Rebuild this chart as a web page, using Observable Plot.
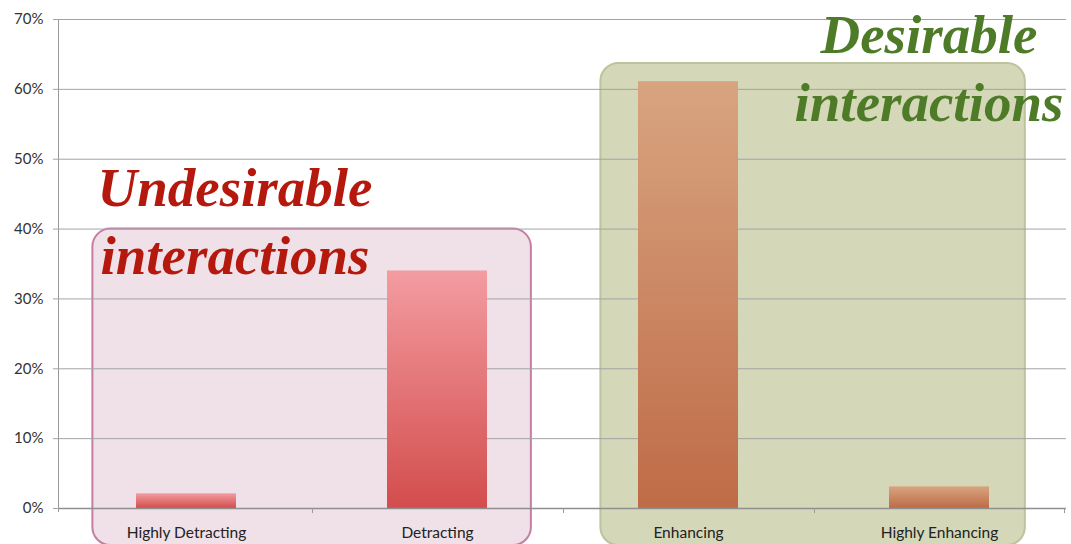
<!DOCTYPE html>
<html><head><meta charset="utf-8">
<script src="https://cdn.jsdelivr.net/npm/d3@7"></script>
<script src="https://cdn.jsdelivr.net/npm/@observablehq/plot@0.6"></script>
<style>
  html,body{margin:0;padding:0;background:#fff;}
  #chart svg{display:block;}
</style>
</head><body><div id="chart"></div>
<script>
// ---- data ----
const categories = ["Highly Detracting", "Detracting", "Enhancing", "Highly Enhancing"];
const shares = [0.021, 0.34, 0.611, 0.031];
const yTicks = [0, 0.1, 0.2, 0.3, 0.4, 0.5, 0.6, 0.7];
const groupLines = [["Undesirable", "interactions"], ["Desirable", "interactions"]];
const groupMembers = [["Highly Detracting", "Detracting"], ["Enhancing", "Highly Enhancing"]];
const groupTops = [0.40, 0.637];

const rows = categories.map((c, i) => ({category: c, share: shares[i], group: groupMembers[0].includes(c) ? 0 : 1}));

const W = 1071, H = 544;

function bw(x) { return typeof x.bandwidth === "function" ? x.bandwidth() : x.bandwidth; }
function stepOf(x) { return typeof x.step === "function" ? x.step() : (bw(x) / 0.4); }
function slotStart(x, c) { const s = stepOf(x); return x(c) - (s - bw(x)) / 2; }

const defsMark = () => {
  const svg = d3.create("svg:defs");
  const mk = (id, top, bottom) => {
    const g = svg.append("linearGradient").attr("id", id).attr("x1", 0).attr("y1", 0).attr("x2", 0).attr("y2", 1);
    g.append("stop").attr("offset", "0%").attr("stop-color", top);
    g.append("stop").attr("offset", "100%").attr("stop-color", bottom);
  };
  mk("gRed", "#f39ca1", "#d34d4c");
  mk("gOrange", "#d8a480", "#bf6b47");
  return svg.node();
};

const boxesMark = (index, scales) => {
  const x = scales.x, y = scales.y, s = stepOf(x);
  const g = d3.create("svg:g");
  const specs = [
    {l: slotStart(x, groupMembers[0][0]) + 0.127 * s, r: slotStart(x, groupMembers[0][1]) + 0.874 * s,
     fill: "#f0e0e8", stroke: "#c47ea3"},
    {l: slotStart(x, groupMembers[1][0]) + 0.151 * s, r: slotStart(x, groupMembers[1][1]) + 0.842 * s,
     fill: "#d4d8b8", stroke: "#bcc39d"}
  ];
  specs.forEach((b, i) => {
    const top = y(groupTops[i]);
    const bottom = y(0) + 37;
    g.append("rect").attr("x", b.l).attr("y", top).attr("width", b.r - b.l).attr("height", bottom - top)
      .attr("rx", 18).attr("ry", 18).attr("fill", b.fill).attr("stroke", b.stroke).attr("stroke-width", 2);
  });
  return g.node();
};

const frameMark = (index, scales, values, dims) => {
  const y = scales.y;
  const g = d3.create("svg:g").attr("stroke", "#9a9a9a").attr("stroke-width", 1);
  const xx = dims.marginLeft - 0.5;
  g.append("line").attr("x1", xx).attr("x2", xx).attr("y1", y(0.7)).attr("y2", y(0) + 4);
  return g.node();
};

const sepMark = (index, scales) => {
  const x = scales.x, y = scales.y, s = stepOf(x);
  const g = d3.create("svg:g").attr("stroke", "#9a9a9a").attr("stroke-width", 1);
  const y0 = y(0);
  categories.forEach((c, i) => {
    if (i === 0) return;
    const xx = Math.round(slotStart(x, c)) + 0.5;
    g.append("line").attr("x1", xx).attr("x2", xx).attr("y1", y0).attr("y2", y0 + 5);
  });
  const last = Math.round(slotStart(x, categories[categories.length - 1]) + s) - 0.5;
  g.append("line").attr("x1", last).attr("x2", last).attr("y1", y0).attr("y2", y0 + 5);
  return g.node();
};

const labelsMark = (index, scales) => {
  const x = scales.x, y = scales.y, s = stepOf(x);
  const g = d3.create("svg:g")
    .attr("font-family", "'Liberation Serif', serif")
    .attr("font-style", "italic").attr("font-weight", "bold")
    .attr("font-size", 55).attr("text-anchor", "middle");
  const specs = [
    {cx: slotStart(x, groupMembers[0][0]) + 0.695 * s, base: y(0.433), color: "#b5190d"},
    {cx: slotStart(x, groupMembers[1][0]) + 1.46 * s, base: y(0.651), color: "#4d7b27"}
  ];
  specs.forEach((t, i) => {
    groupLines[i].forEach((line, j) => {
      g.append("text").attr("x", t.cx).attr("y", t.base + j * 68).attr("fill", t.color).text(line);
    });
  });
  return g.node();
};

const chart = Plot.plot({
  width: W,
  height: H,
  marginLeft: 59,
  marginRight: 5,
  marginTop: 19,
  marginBottom: 36,
  style: {background: "#fff", color: "#222"},
  x: {domain: categories, paddingInner: 0.6, paddingOuter: 0.3, label: null},
  y: {domain: [0, 0.7], label: null},
  marks: [
    defsMark,
    boxesMark,
    Plot.gridY(yTicks, {stroke: "#a3a3a3", strokeOpacity: 1, strokeWidth: 1}),
    Plot.barY(rows, {x: "category", y: "share", fill: d => d.group === 0 ? "url(#gRed)" : "url(#gOrange)"}),
    Plot.ruleY([0], {stroke: "#8f8f8f", strokeWidth: 1.3}),
    frameMark,
    sepMark,
    Plot.axisY({ticks: yTicks, tickFormat: d3.format(".0%"), tickSize: 6, stroke: "#a3a3a3", tickPadding: 10, fontSize: 15, fontFamily: "Lato, 'Open Sans', sans-serif", color: "#333"}),
    Plot.axisX({tickSize: 0, tickPadding: 18, fontSize: 15.5, fontFamily: "Lato, 'Open Sans', sans-serif", color: "#222"}),
    labelsMark
  ]
});

document.getElementById("chart").appendChild(chart);
</script>
</body></html>
